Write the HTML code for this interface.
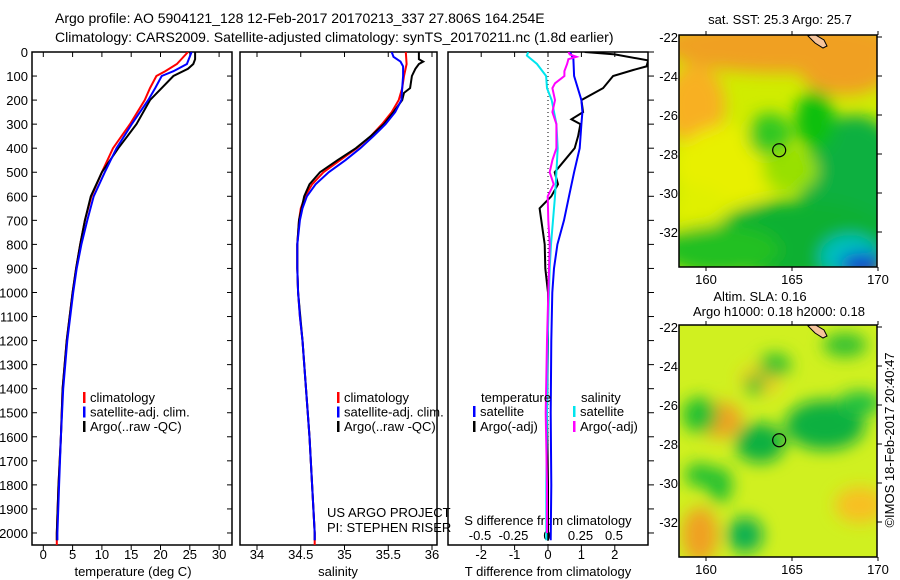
<!DOCTYPE html>
<html><head><meta charset="utf-8">
<style>
html,body{margin:0;padding:0;background:#fff;}
svg{display:block;font-family:"Liberation Sans",sans-serif;}
text{font-size:13px;fill:#000;}
text.title{font-size:14px;}
</style></head>
<body>
<svg id="fig" width="900" height="580" viewBox="0 0 900 580" xmlns="http://www.w3.org/2000/svg">
<defs>
<clipPath id="c1"><rect x="32" y="52" width="200" height="493"/></clipPath>
<clipPath id="c2"><rect x="240" y="52" width="197" height="493"/></clipPath>
<clipPath id="c3"><rect x="448" y="52" width="200" height="493"/></clipPath>
<clipPath id="m1"><rect x="679" y="35" width="198" height="232"/></clipPath>
<clipPath id="m2"><rect x="679" y="325" width="198" height="232"/></clipPath>
<filter id="bl" x="-50%" y="-50%" width="200%" height="200%"><feGaussianBlur stdDeviation="8"/></filter>
</defs>
<text class="title" x="55" y="23">Argo profile: AO 5904121_128 12-Feb-2017 20170213_337 27.806S 164.254E</text>
<text class="title" x="55" y="42">Climatology: CARS2009. Satellite-adjusted climatology: synTS_20170211.nc (1.8d earlier)</text>
<g id="axes"></g>
<g id="maps"></g>
</svg>
<script>
// ---------- data ----------
const depthTicks=[0,100,200,300,400,500,600,700,800,900,1000,1100,1200,1300,1400,1500,1600,1700,1800,1900,2000];
const tTicks=[0,5,10,15,20,25,30];
const sTicks=[34,34.5,35,35.5,36];
const tdTicks=[-2,-1,0,1,2];
const sdTicks=[-0.5,-0.25,0,0.25,0.5];
const sdTickLabels=["-0.5","-0.25","0","0.25","0.5"];

const tClimDepth=[0,50,80,100,150,200,300,400,500,600,700,800,900,1000,1200,1400,1600,1800,2000,2050];
const tClim=[24.7,22.8,20.8,19.3,18.2,17.3,14.8,11.9,10.0,8.2,7.1,6.3,5.6,5.0,4.0,3.3,3.0,2.6,2.3,2.3];
const tSatDepth=[0,50,80,100,150,200,300,400,500,600,700,800,900,1000,1200,1400,1600,1800,2000,2030];
const tSat=[25.3,24.5,22.2,20.2,19.1,17.9,15.1,12.5,10.5,8.6,7.5,6.5,5.7,5.1,4.1,3.4,3.0,2.7,2.4,2.4];
const tArgoDepth=[0,30,50,70,100,150,200,300,400,500,600,700,800,900,1000,1200,1400,1600,1800,2000,2030];
const tArgo=[25.9,25.9,25.6,24.7,22.2,20.2,18.2,15.9,12.8,10.0,8.1,7.1,6.3,5.6,5.0,4.0,3.3,3.0,2.6,2.3,2.3];

const sClimDepth=[0,50,100,150,200,250,300,350,400,450,500,550,600,650,700,800,900,1000,1100,1200,1400,1600,1800,2000,2050];
const sClim=[35.70,35.71,35.68,35.66,35.62,35.54,35.43,35.30,35.14,34.95,34.76,34.63,34.55,34.50,34.48,34.46,34.46,34.47,34.49,34.52,34.56,34.60,34.63,34.66,34.66];
const sSatDepth=[0,20,40,60,100,150,200,250,300,350,400,450,500,550,600,650,700,800,900,1000,1100,1200,1400,1600,1800,2000,2030];
const sSat=[35.54,35.56,35.64,35.67,35.67,35.66,35.65,35.58,35.47,35.33,35.18,35.01,34.82,34.67,34.57,34.52,34.49,34.46,34.46,34.47,34.49,34.52,34.56,34.60,34.63,34.66,34.66];
const sArgoDepth=[0,30,40,50,70,100,150,170,200,250,300,350,400,450,500,550,600,700,800,900,1000,1200,1400,1600,1800,2000,2030];
const sArgo=[35.85,35.85,35.90,35.85,35.81,35.77,35.75,35.68,35.66,35.56,35.45,35.30,35.13,34.92,34.72,34.60,34.54,34.48,34.46,34.46,34.47,34.52,34.56,34.60,34.63,34.66,34.66];

const dTSatDepth=[0,30,100,200,250,300,400,500,600,700,800,900,1000,1200,1500,1800,2030];
const dTSat=[0.66,0.76,0.78,1.0,1.03,1.0,0.95,0.78,0.63,0.48,0.28,0.18,0.13,0.1,0.08,0.1,0.08];
const dTArgoDepth=[0,10,35,60,75,100,150,200,250,280,300,350,400,450,500,550,600,650,700,800,900,1000,1200,1500,1800,2030];
const dTArgo=[1.1,2.0,3.0,2.95,2.55,1.95,1.65,1.0,1.05,0.7,0.97,0.9,0.8,0.5,0.2,0.3,0.1,-0.25,-0.2,-0.1,-0.08,0.0,0.0,-0.03,0.0,0.0];
const dSSatDepth=[0,15,50,100,150,200,300,400,500,600,700,800,900,1000,1200,1500,1800,2030];
const dSSat=[-0.14,-0.15,-0.075,-0.007,0.0,0.035,0.07,0.08,0.07,0.06,0.045,0.03,0.02,0.015,0.005,0.0,-0.005,-0.005];
const dSArgoDepth=[0,10,20,30,50,80,100,130,150,200,250,300,400,450,500,550,600,700,800,900,1000,1200,1500,1800,2000];
const dSArgo=[0.16,0.17,0.22,0.16,0.15,0.13,0.13,0.06,0.04,0.06,0.04,0.07,0.07,0.04,0.02,0.05,0.005,0.01,0.02,0.015,0.01,0.0,-0.01,0.0,0.0];

const latTicks=[-22,-24,-26,-28,-30,-32];
const lonTicks=[160,165,170];
const argoLon=164.254, argoLat=-27.806;

// ---------- helpers ----------
const NS="http://www.w3.org/2000/svg";
const ax=document.getElementById('axes');
const mp=document.getElementById('maps');
function el(tag,attrs,parent){const e=document.createElementNS(NS,tag);for(const k in attrs)e.setAttribute(k,attrs[k]);(parent||ax).appendChild(e);return e;}
const Y0=52,Y1=545;
const yD=d=>Y0+d*(Y1-Y0)/2050;
const xT=v=>43.3+v*5.86;
const xS=v=>257+(v-34)*87.5;
const xTD=v=>548+v*33.4;
const xSD=v=>547+v*134;

function frame(x,w,name){const r=el('rect',{x:x,y:Y0,width:w,height:Y1-Y0,fill:'none',stroke:'#000','stroke-width':1.5});

}
frame(32,200,'temperature-panel-frame');
frame(240,197,'salinity-panel-frame');
frame(448,200,'difference-panel-frame');

depthTicks.forEach(d=>{
 const t=el('text',{x:28,y:yD(d)+5,'text-anchor':'end'});t.textContent=d;
 
 
 el('line',{x1:32,x2:37,y1:yD(d),y2:yD(d),stroke:'#000'});
 el('line',{x1:227,x2:232,y1:yD(d),y2:yD(d),stroke:'#000'});
 el('line',{x1:648,x2:654,y1:yD(d),y2:yD(d),stroke:'#000'});
});
function xticks(arr,fx,labels,ly,name){arr.forEach((v,i)=>{
 el('line',{x1:fx(v),x2:fx(v),y1:Y0,y2:Y0+5,stroke:'#000'});
 el('line',{x1:fx(v),x2:fx(v),y1:Y1,y2:Y1+5,stroke:'#000'});
 const t=el('text',{x:fx(v),y:ly,'text-anchor':'middle'});t.textContent=labels?labels[i]:v;
 
 
});}
xticks(tTicks,xT,null,559,'temperature-tick-label');
xticks(sTicks,xS,null,559,'salinity-tick-label');
xticks(tdTicks,xTD,null,559,'t-difference-tick-label');
sdTicks.forEach((v,i)=>{const t=el('text',{x:xSD(v),y:540,'text-anchor':'middle'});t.textContent=sdTickLabels[i];
 
 });
function label(x,y,txt,name,anchor){const t=el('text',{x:x,y:y,'text-anchor':anchor||'middle'});t.textContent=txt;
 
 return t;}
label(133,576,'temperature (deg C)','x-axis-title-temperature');
label(338,576,'salinity','x-axis-title-salinity');
label(548,576,'T difference from climatology','x-axis-title-t-difference');
label(548,525,'S difference from climatology','s-difference-axis-title');
el('line',{x1:548,x2:548,y1:Y0,y2:Y1,stroke:'#000','stroke-dasharray':'1,3'});

function series(ds,vs,fx,color,clip,name){
 const pts=ds.map((d,i)=>fx(vs[i]).toFixed(1)+','+yD(d).toFixed(1)).join(' ');
 const p=el('polyline',{points:pts,fill:'none',stroke:color,'stroke-width':2,'clip-path':'url(#'+clip+')'});
 
 
}
series(tClimDepth,tClim,xT,'#ff0000','c1','temperature-climatology-line');
series(tArgoDepth,tArgo,xT,'#000','c1','temperature-argo-line');
series(tSatDepth,tSat,xT,'#0000ff','c1','temperature-satellite-line');
series(sClimDepth,sClim,xS,'#ff0000','c2','salinity-climatology-line');
series(sArgoDepth,sArgo,xS,'#000','c2','salinity-argo-line');
series(sSatDepth,sSat,xS,'#0000ff','c2','salinity-satellite-line');
series(dTArgoDepth,dTArgo,xTD,'#000','c3','t-difference-argo-line');
series(dTSatDepth,dTSat,xTD,'#0000ff','c3','t-difference-satellite-line');
series(dSSatDepth,dSSat,xSD,'#00e5ee','c3','s-difference-satellite-line');
series(dSArgoDepth,dSArgo,xSD,'#ff00ff','c3','s-difference-argo-line');

function legend(x,y,color,txt,name){el('rect',{x:x,y:y-10,width:2.5,height:11,fill:color});
 const t=el('text',{x:x+7,y:y});t.textContent=txt;
 
 }
[['#ff0000','climatology'],['#0000ff','satellite-adj. clim.'],['#000','Argo(..raw -QC)']].forEach((r,i)=>{
 legend(83,402+i*14.5,r[0],r[1],'legend-entry');
 legend(337,402+i*14.5,r[0],r[1],'legend-entry');
});
label(481,402,'temperature','legend-title-temperature','start');
label(581,402,'salinity','legend-title-salinity','start');
legend(473,416,'#0000ff','satellite','legend-entry');
legend(473,431,'#000','Argo(-adj)','legend-entry');
legend(573,416,'#00e5ee','satellite','legend-entry');
legend(573,431,'#ff00ff','Argo(-adj)','legend-entry');
label(327,517,'US ARGO PROJECT','project-credit','start');
label(327,532,'PI: STEPHEN RISER','pi-credit','start');

// ---------- maps ----------
const MX0=679,MX1=877;
const xL=v=>706+(v-160)*17.2;
function map(top,clip,blobs,base,name){
 const g=el('g',{'clip-path':'url(#'+clip+')'},mp);
 
 
 el('rect',{x:MX0,y:top,width:198,height:232,fill:base},g);
 const gb=el('g',{filter:'url(#bl)'},g);
 blobs.forEach(b=>el('ellipse',{cx:b[0],cy:top+b[1],rx:b[2],ry:b[3],fill:b[4]},gb));
 el('path',{d:`M808 ${top+1} l6 -2 l10 6 l3 6 l-4 2 l-8 -5 z`,fill:'#f5c49b',stroke:'#000','stroke-width':1},g);
 el('rect',{x:MX0,y:top,width:198,height:232,fill:'none',stroke:'#000','stroke-width':1.5},mp);
 const yLat=v=>top+2+(-22-v)*19.5;
 latTicks.forEach(v=>{el('line',{x1:MX1,x2:MX1+5,y1:yLat(v),y2:yLat(v),stroke:'#000'},mp);
  const t=el('text',{x:678,y:yLat(v)+5,'text-anchor':'end'},mp);t.textContent=v;
  
  });
 lonTicks.forEach(v=>{el('line',{x1:xL(v),x2:xL(v),y1:top,y2:top-4,stroke:'#000'},mp);
  el('line',{x1:xL(v),x2:xL(v),y1:top+232,y2:top+236,stroke:'#000'},mp);
  const t=el('text',{x:xL(v),y:top+249,'text-anchor':'middle'},mp);t.textContent=v;
  
  });
 const c=el('circle',{cx:xL(argoLon),cy:yLat(argoLat),r:6.5,fill:'none',stroke:'#000','stroke-width':1.2},mp);
 
 
}
map(35,'m1',[
 [780,10,120,28,'#f0a020'],[695,70,30,40,'#f8b020'],[845,35,45,25,'#f0a020'],
 [730,130,55,40,'#e8f000'],[700,175,25,25,'#e0f000'],
 [855,160,55,80,'#10b040'],[800,205,90,40,'#10b030'],[720,215,60,25,'#20c020'],
 [770,100,22,22,'#30c820'],[815,85,20,30,'#10c010'],[790,135,28,22,'#98e000'],
 [850,222,30,22,'#00c0c0'],[862,230,22,12,'#1040d0']
],'#d0ec00','sst-map');
map(325,'m2',[
 [720,95,22,18,'#f0a020'],[700,210,18,28,'#f0a020'],[860,180,25,18,'#f8c020'],[760,55,20,15,'#f8c820'],
 [825,100,40,25,'#10b040'],[760,118,25,20,'#10b040'],[700,90,18,18,'#20c030'],
 [720,160,12,18,'#20c030'],[745,210,18,18,'#10b050'],[775,40,16,12,'#30c030'],
 [860,78,22,12,'#20c040'],[755,60,10,10,'#20c030'],[845,20,22,12,'#30c030'],[700,150,15,12,'#20c030']
],'#d0f020','sla-map');
label(780,24,'sat. SST: 25.3 Argo: 25.7','sst-map-title');
label(760,301,'Altim. SLA: 0.16','sla-map-title');
label(779,316,'Argo h1000: 0.18 h2000: 0.18','argo-height-title');
const cr=label(0,0,'©IMOS 18-Feb-2017 20:40:47','imos-credit');
cr.setAttribute('transform','translate(894,440) rotate(-90)');
</script>
</body></html>
